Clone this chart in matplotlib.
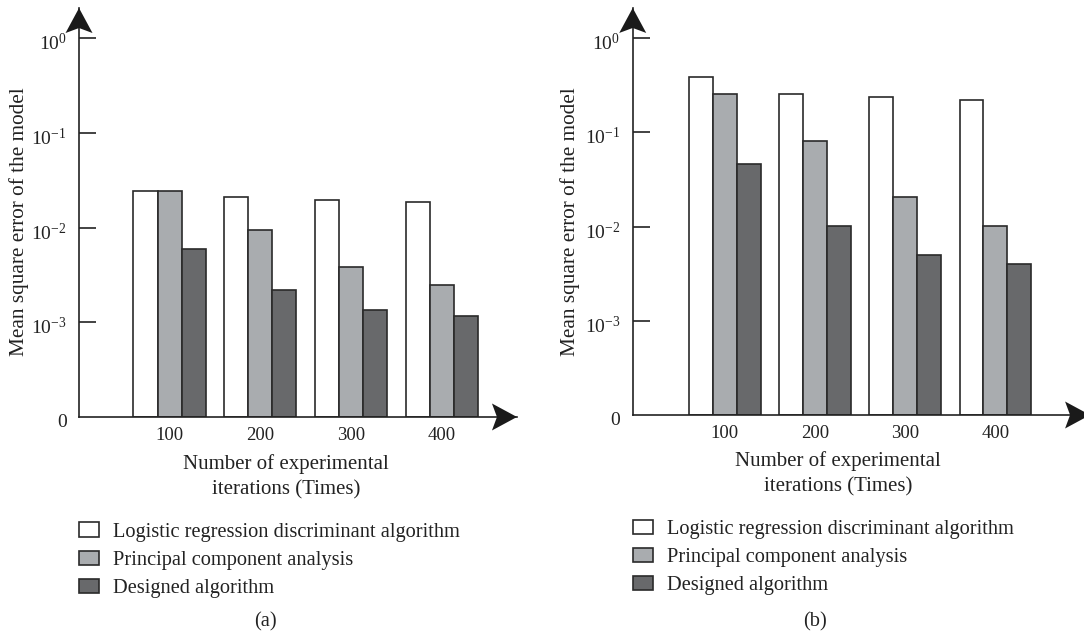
import matplotlib.pyplot as plt
import numpy as np
from matplotlib.patches import Polygon
from matplotlib.transforms import ScaledTranslation

plt.rcParams["font.family"] = ["Liberation Serif", "DejaVu Serif"]
plt.rcParams["mathtext.fontset"] = "custom"
plt.rcParams["mathtext.rm"] = "Liberation Serif"

iterations = ["100", "200", "300", "400"]
series_names = ["Logistic regression discriminant algorithm",
                "Principal component analysis",
                "Designed algorithm"]

# mean square error, panel (a)
mse_a_logistic = [0.0243, 0.0210, 0.0197, 0.0185]
mse_a_pca = [0.0243, 0.0094, 0.0038, 0.00245]
mse_a_designed = [0.0059, 0.00217, 0.00136, 0.00118]

# mean square error, panel (b)
mse_b_logistic = [0.390, 0.258, 0.238, 0.219]
mse_b_pca = [0.258, 0.081, 0.0206, 0.0102]
mse_b_designed = [0.0462, 0.0102, 0.0050, 0.0040]

ytick_vals = [1e-4, 1e-3, 1e-2, 1e-1, 1e0]
ytick_labels = ["0", r"$\mathregular{10^{-3}}$", r"$\mathregular{10^{-2}}$",
                r"$\mathregular{10^{-1}}$", r"$\mathregular{10^{0}}$"]

colors = ["#ffffff", "#a9acaf", "#68696b"]
edge = "#2a2a2a"
ink = "#222222"
floor = 1e-4

fig = plt.figure(figsize=(10.84, 6.37), dpi=100)


def arrow_head(ax, anchor, direction):
    # stealth-style head drawn in inches from an axes-fraction anchor
    L, W, N = 0.25, 0.135, 0.05
    if direction == "up":
        verts = [(0, 0), (-W, -L), (0, -L + N), (W, -L)]
    else:
        verts = [(0, 0), (-L, W), (-L + N, 0), (-L, -W)]
    tr = fig.dpi_scale_trans + ScaledTranslation(anchor[0], anchor[1], ax.transAxes)
    ax.add_patch(Polygon(verts, closed=True, transform=tr, facecolor="#1a1a1a",
                         edgecolor="none", clip_on=False, zorder=5))


def panel(rect, data, xlim, width, ytop, xlabel_pos, ylabel_pos, legend_y, tag, tag_x):
    ax = fig.add_axes(rect)
    x = np.arange(len(iterations))
    for i, (vals, c) in enumerate(zip(data, colors)):
        v = np.array(vals)
        ax.bar(x + (i - 1) * width, v - floor, bottom=floor, width=width,
               color=c, edgecolor=edge, linewidth=1.2, label=series_names[i], zorder=2)
    ax.set_yscale("log")
    ax.set_ylim(floor, ytop)
    ax.set_xlim(*xlim)
    ax.set_yticks(ytick_vals)
    ax.set_yticklabels(ytick_labels)
    ax.minorticks_off()
    ax.set_xticks(x)
    ax.set_xticklabels(iterations)
    ax.tick_params(axis="y", direction="in", length=12.2, width=1.2, color=ink,
                   pad=9, labelsize=14, labelcolor=ink)
    ax.tick_params(axis="x", length=0, pad=7, labelsize=13.5, labelcolor=ink)
    ax.yaxis.get_major_ticks()[0].tick1line.set_visible(False)
    # nudge the y tick labels a little below their ticks
    nudge = ScaledTranslation(0, -0.035, fig.dpi_scale_trans)
    for t in ax.yaxis.get_major_ticks():
        t.label1.set_transform(t.label1.get_transform() + nudge)
    for s in ["top", "right"]:
        ax.spines[s].set_visible(False)
    for s in ["left", "bottom"]:
        ax.spines[s].set_linewidth(1.2)
        ax.spines[s].set_color(ink)
    ax.set_xlabel("Number of experimental\niterations (Times)", fontsize=15,
                  color=ink, linespacing=1.4)
    ax.xaxis.set_label_coords(*xlabel_pos)
    ax.set_ylabel("Mean square error of the model", fontsize=15.3, color=ink)
    ax.yaxis.set_label_coords(*ylabel_pos)
    arrow_head(ax, (0, 1), "up")
    arrow_head(ax, (1, 0), "right")
    ax.legend(loc="upper left", bbox_to_anchor=(0, legend_y), frameon=False,
              fontsize=14.7, handlelength=0.98, handleheight=0.68, handletextpad=0.68,
              labelspacing=0.44, borderpad=0, borderaxespad=0, labelcolor=ink)
    fig.text(tag_x, 1 - 622 / 637, tag, fontsize=14.7, ha="center", va="center",
             color=ink)
    return ax


panel([0.0729, 0.3454, 0.404, 0.642],
      [mse_a_logistic, mse_a_pca, mse_a_designed],
      (-0.998, 3.831), 0.265, 10 ** 0.32,
      (0.473, -0.091), (-0.114, 0.477), -0.258, "(a)", 265 / 1084)

panel([0.5837, 0.3485, 0.4219, 0.639],
      [mse_b_logistic, mse_b_pca, mse_b_designed],
      (-1.022, 4.052), 0.264, 10 ** 0.321,
      (0.449, -0.089), (-0.115, 0.474), -0.257, "(b)", 815 / 1084)

plt.savefig("out.png", dpi=100)
